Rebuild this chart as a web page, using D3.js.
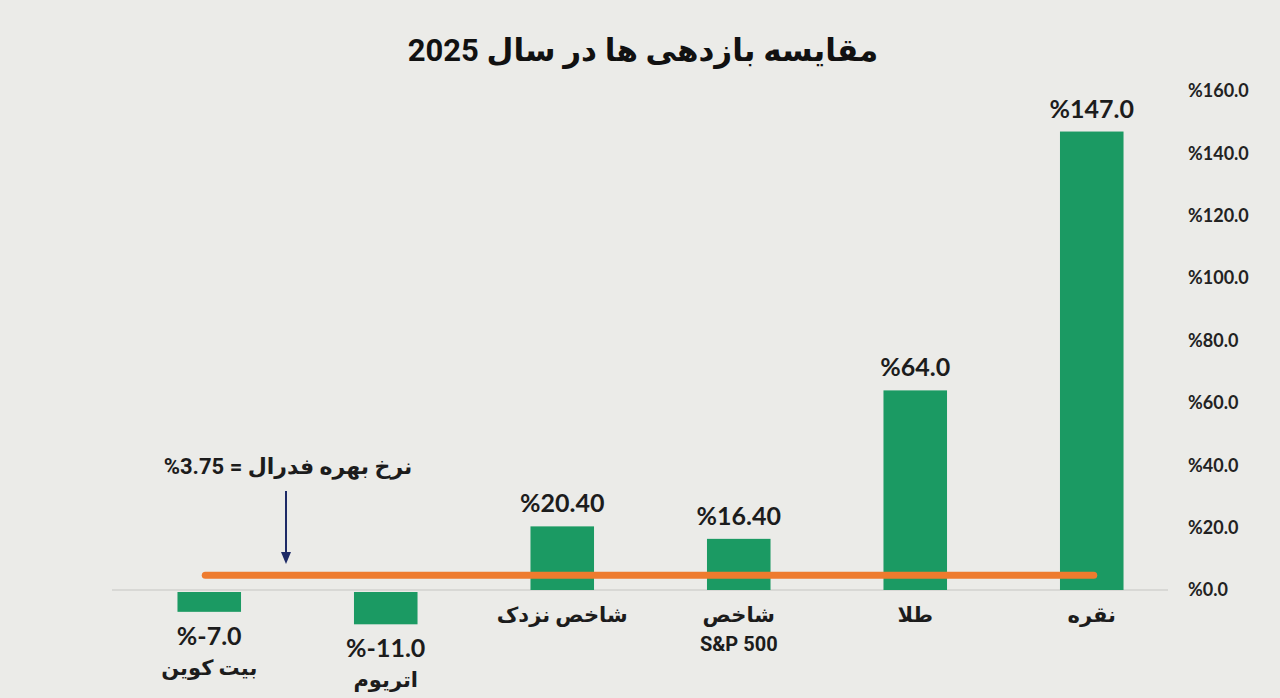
<!DOCTYPE html>
<html>
<head>
<meta charset="utf-8">
<script src="https://cdn.jsdelivr.net/npm/d3@7"></script>
<style>
  html, body { margin: 0; padding: 0; background: #ebebe8; }
  svg { display: block; }
</style>
</head>
<body>
<div id="chart_container"></div>
<script>
// chart data
const categories = ["بیت کوین", "اتریوم", "شاخص نزدک", "شاخص|S&P 500", "طلا", "نقره"];
const returns = [-7.0, -11.0, 20.40, 16.40, 64.0, 147.0];
const valueLabels = ["%-7.0", "%-11.0", "%20.40", "%16.40", "%64.0", "%147.0"];
const yTicks = [0, 20, 40, 60, 80, 100, 120, 140, 160];
const fedRate = 3.75;
const fedLabel = "%3.75 = نرخ بهره فدرال";
const title = "مقایسه بازدهی ها در سال 2025";

let svgWidth = 1280;
let svgHeight = 698;

let barColor = "#1b9a63";
let lineColor = "#ee7b2e";
let textColor = "#1c1c1c";
let arrowColor = "#1d2a66";

let svg = d3.select("#chart_container")
  .append("svg")
  .attr("width", svgWidth)
  .attr("height", svgHeight);

svg.append("rect")
  .attr("width", svgWidth)
  .attr("height", svgHeight)
  .attr("fill", "#ebebe8");

let xScale = d3.scaleBand()
  .domain(categories)
  .range([121, 1180])
  .paddingInner(0.64)
  .paddingOuter(0.32);

let yScale = d3.scaleLinear()
  .domain([0, 160])
  .range([590, 91]);

// title
svg.append("text")
  .attr("x", 643)
  .attr("y", 61)
  .attr("text-anchor", "middle")
  .attr("font-family", "Roboto, 'DejaVu Sans', sans-serif")
  .attr("font-weight", "bold")
  .attr("font-size", 31)
  .attr("fill", "#111")
  .attr("direction", "rtl")
  .text(title);

// right axis, labels only
let yAxis = d3.axisRight(yScale)
  .tickValues(yTicks)
  .tickSize(0)
  .tickPadding(0)
  .tickFormat(d => "%" + d3.format(".1f")(d));

let axisG = svg.append("g")
  .attr("transform", "translate(1188, 0)")
  .call(yAxis);

axisG.select(".domain").remove();
axisG.selectAll("text")
  .attr("font-family", "Lato, 'Open Sans', sans-serif")
  .attr("font-weight", "bold")
  .attr("font-size", 18)
  .attr("fill", "#222");

// zero baseline
svg.append("line")
  .attr("x1", 112)
  .attr("x2", 1168)
  .attr("y1", yScale(0))
  .attr("y2", yScale(0))
  .attr("stroke", "#c6c6c2")
  .attr("stroke-width", 1.2);

// bars
svg.selectAll(".bar")
  .data(categories)
  .enter()
  .append("rect")
  .attr("class", "bar")
  .attr("x", d => xScale(d))
  .attr("width", xScale.bandwidth())
  .attr("y", (d, i) => returns[i] >= 0 ? yScale(returns[i]) : yScale(0) + 2)
  .attr("height", (d, i) => Math.abs(yScale(returns[i]) - yScale(0)) - (returns[i] >= 0 ? 0 : 2))
  .attr("fill", barColor);

// value labels
svg.selectAll(".value")
  .data(categories)
  .enter()
  .append("text")
  .attr("class", "value")
  .attr("x", d => xScale(d) + xScale.bandwidth() / 2)
  .attr("y", (d, i) => returns[i] >= 0 ? yScale(returns[i]) - 14 : yScale(returns[i]) + 33)
  .attr("text-anchor", "middle")
  .attr("font-family", "Lato, 'Open Sans', sans-serif")
  .attr("font-weight", "bold")
  .attr("font-size", 25)
  .attr("fill", textColor)
  .text((d, i) => valueLabels[i]);

// category labels
let catG = svg.selectAll(".cat")
  .data(categories)
  .enter()
  .append("text")
  .attr("class", "cat")
  .attr("text-anchor", "middle")
  .attr("font-family", "Roboto, 'DejaVu Sans', sans-serif")
  .attr("font-weight", "bold")
  .attr("font-size", 20)
  .attr("fill", textColor)
  .attr("transform", (d, i) => {
    let x = xScale(d) + xScale.bandwidth() / 2;
    let y = returns[i] >= 0 ? 622 : yScale(returns[i]) + 63;
    return "translate(" + [x, y] + ")";
  });

catG.selectAll("tspan")
  .data(d => d.split("|"))
  .enter()
  .append("tspan")
  .attr("x", 0)
  .attr("dy", (d, i) => i === 0 ? 0 : 29)
  .attr("font-size", (d, i) => i === 0 ? 21 : 20)
  .text(d => d);

// fed rate line
let xFirst = xScale(categories[0]) + xScale.bandwidth() / 2;
let xLast = xScale(categories[categories.length - 1]) + xScale.bandwidth() / 2;

svg.append("line")
  .attr("x1", xFirst - 4)
  .attr("x2", xLast + 2)
  .attr("y1", yScale(fedRate) - 3)
  .attr("y2", yScale(fedRate) - 3)
  .attr("stroke", lineColor)
  .attr("stroke-width", 7)
  .attr("stroke-linecap", "round");

// annotation + arrow
let arrowX = 286;

svg.append("line")
  .attr("x1", arrowX)
  .attr("x2", arrowX)
  .attr("y1", 491)
  .attr("y2", 553)
  .attr("stroke", arrowColor)
  .attr("stroke-width", 2);

svg.append("path")
  .attr("d", d3.line()([[arrowX - 5, 552], [arrowX + 5, 552], [arrowX, 564]]))
  .attr("fill", arrowColor);

svg.append("text")
  .attr("x", 288)
  .attr("y", 474)
  .attr("text-anchor", "middle")
  .attr("font-family", "Roboto, 'DejaVu Sans', sans-serif")
  .attr("font-weight", "bold")
  .attr("font-size", 22)
  .attr("fill", textColor)
  .text(fedLabel);
</script>
</body>
</html>
